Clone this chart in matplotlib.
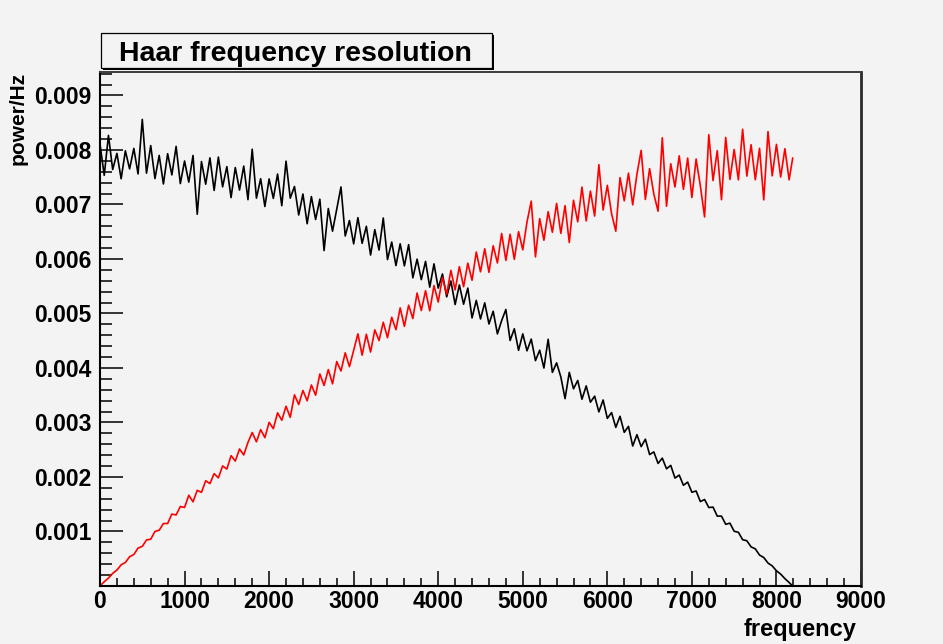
import numpy as np
import matplotlib
matplotlib.use('Agg')
import matplotlib.pyplot as plt
from matplotlib.patches import Rectangle
from matplotlib.ticker import MultipleLocator, FixedLocator, FuncFormatter

# Frequency bins (Hz), one every 50 Hz up to the Nyquist frequency.
freq = np.append(np.arange(0, 8200, 50), 8192)

# Power/Hz, in units of 1e-6.
# Black: low-pass (approximation) band, red: high-pass (detail) band.
black = [
	8106, 7534, 8267, 7640, 7937, 7471, 7984, 7652, 8028, 7560,
	8560, 7574, 8080, 7475, 7900, 7376, 7931, 7542, 8065, 7383,
	7797, 7409, 7899, 6820, 7787, 7372, 7855, 7257, 7869, 7323,
	7694, 7126, 7677, 7264, 7704, 7088, 8013, 7116, 7472, 6963,
	7468, 7111, 7558, 6977, 7794, 7115, 7330, 6807, 7191, 6646,
	7144, 6724, 7096, 6154, 6925, 6510, 6919, 7321, 6422, 6705,
	6277, 6758, 6287, 6599, 6072, 6538, 6163, 6751, 5989, 6310,
	5879, 6278, 5873, 6262, 5654, 5996, 5621, 5955, 5483, 5910,
	5465, 5725, 5305, 5596, 5164, 5524, 5170, 5465, 4918, 5240,
	4899, 5195, 4807, 5041, 4625, 4869, 5073, 4504, 4719, 4324,
	4626, 4315, 4530, 4135, 4326, 3999, 4526, 3919, 4094, 3836,
	3437, 3920, 3618, 3771, 3427, 3671, 3372, 3483, 3194, 3413,
	3075, 3182, 2910, 3114, 2819, 2929, 2568, 2776, 2557, 2693,
	2411, 2460, 2249, 2346, 2150, 2213, 1980, 2035, 1848, 1906,
	1720, 1743, 1549, 1587, 1440, 1447, 1282, 1282, 1132, 1153,
	1004, 985, 850, 830, 718, 681, 568, 522, 421, 369,
	279, 218, 135, 64, 0,
]

red = [
	0, 78, 145, 232, 292, 389, 431, 537, 577, 696,
	727, 845, 859, 1001, 1023, 1146, 1147, 1320, 1303, 1459,
	1441, 1665, 1544, 1755, 1718, 1931, 1879, 2062, 1984, 2203,
	2145, 2391, 2292, 2514, 2404, 2634, 2816, 2645, 2869, 2722,
	3003, 2886, 3177, 3041, 3298, 3094, 3507, 3329, 3588, 3398,
	3688, 3501, 3889, 3679, 3971, 3709, 4118, 3944, 4278, 4024,
	4322, 4626, 4235, 4619, 4292, 4699, 4503, 4839, 4555, 4930,
	4702, 5102, 4763, 5151, 4907, 5375, 5053, 5418, 5049, 5512,
	5210, 5662, 5351, 5791, 5433, 5859, 5491, 5923, 5609, 6127,
	5764, 6187, 5754, 6243, 5927, 6468, 5974, 6453, 5993, 6501,
	6167, 6678, 7061, 6038, 6740, 6343, 6868, 6489, 7019, 6469,
	6978, 6302, 7077, 6681, 7319, 6699, 7245, 6787, 7730, 6898,
	7351, 6831, 6509, 7492, 7067, 7575, 6992, 7553, 7992, 7092,
	7657, 7190, 6876, 8223, 6967, 7746, 7320, 7892, 7277, 7851,
	7127, 7833, 7343, 6771, 8281, 7438, 7987, 7087, 8229, 7458,
	8008, 7451, 8379, 7520, 8096, 7453, 8030, 7083, 8337, 7525,
	8102, 7504, 8023, 7452, 7850,
]

y_ticks = [0.001, 0.002, 0.003, 0.004, 0.005, 0.006, 0.007, 0.008, 0.009]

BG = '#f3f3f3'
W, H = 943.0, 644.0


def px(x, y):
	"""Pixel position (from top left) to figure fraction."""
	return x / W, 1.0 - y / H


def main():
	plt.rcParams['font.family'] = ['Liberation Sans', 'DejaVu Sans']
	plt.rcParams['font.weight'] = 'bold'

	fig = plt.figure(figsize=(W / 100, H / 100), dpi=100, facecolor=BG)
	x0, y0 = px(100, 586)
	ax = fig.add_axes([x0, y0, 761 / W, 514 / H], facecolor=BG)

	ax.plot(freq, np.array(black) * 1e-6, color='black', lw=1.2)
	ax.plot(freq, np.array(red) * 1e-6, color='red', lw=1.2)

	ax.set_xlim(0, 9000)
	ax.set_ylim(0, 0.00943)

	# ROOT-like axes: ticks inside, no ticks on top/right.
	ax.xaxis.set_major_locator(MultipleLocator(1000))
	ax.xaxis.set_minor_locator(MultipleLocator(200))
	ax.yaxis.set_major_locator(FixedLocator(y_ticks))
	ax.yaxis.set_minor_locator(MultipleLocator(0.0002))
	ax.xaxis.set_major_formatter(FuncFormatter(lambda v, p: '%d' % v))
	ax.yaxis.set_major_formatter(FuncFormatter(lambda v, p: '%.3f' % v))

	ax.tick_params(axis='both', which='both', direction='in', top=False, right=False,
		width=1.1, labelsize=16.5, colors='black')
	ax.tick_params(axis='x', which='major', length=11, pad=3)
	ax.tick_params(axis='x', which='minor', length=5.8)
	ax.tick_params(axis='y', which='major', length=16.5, pad=6)
	ax.tick_params(axis='y', which='minor', length=8.6)
	for lab in ax.get_xticklabels() + ax.get_yticklabels():
		lab.set_fontweight('bold')

	ax.spines['left'].set_linewidth(1.5)
	ax.spines['bottom'].set_linewidth(1.5)
	ax.spines['top'].set_color('#3c3c3c')
	ax.spines['top'].set_linewidth(1.4)
	ax.spines['right'].set_color('#2a2a2a')
	ax.spines['right'].set_linewidth(2.0)

	# Axis titles, placed like ROOT does (at the far end of each axis).
	tx, ty = px(18, 72)
	fig.text(tx, ty, 'power/Hz', rotation=90, ha='center', va='top',
		fontsize=15, fontweight='bold')
	tx, ty = px(857, 636)
	fig.text(tx, ty, 'frequency', ha='right', va='baseline',
		fontsize=17, fontweight='bold')

	# Title pave with a small shadow.
	sx, sy = px(102.7, 69.7)
	fig.patches.append(Rectangle((sx, sy), 391 / W, 35 / H, transform=fig.transFigure,
		facecolor='black', edgecolor='none', zorder=1))
	bx, by = px(100.7, 67.7)
	fig.patches.append(Rectangle((bx, by), 391 / W, 35 / H, transform=fig.transFigure,
		facecolor=BG, edgecolor='black', lw=0.9, zorder=2))
	tx, ty = px(295, 60.7)
	fig.text(tx, ty, 'Haar frequency resolution', ha='center', va='baseline',
		fontsize=20.5, fontweight='bold', zorder=3)

	fig.savefig('out.png', dpi=100, facecolor=BG)


if __name__ == '__main__':
	main()
